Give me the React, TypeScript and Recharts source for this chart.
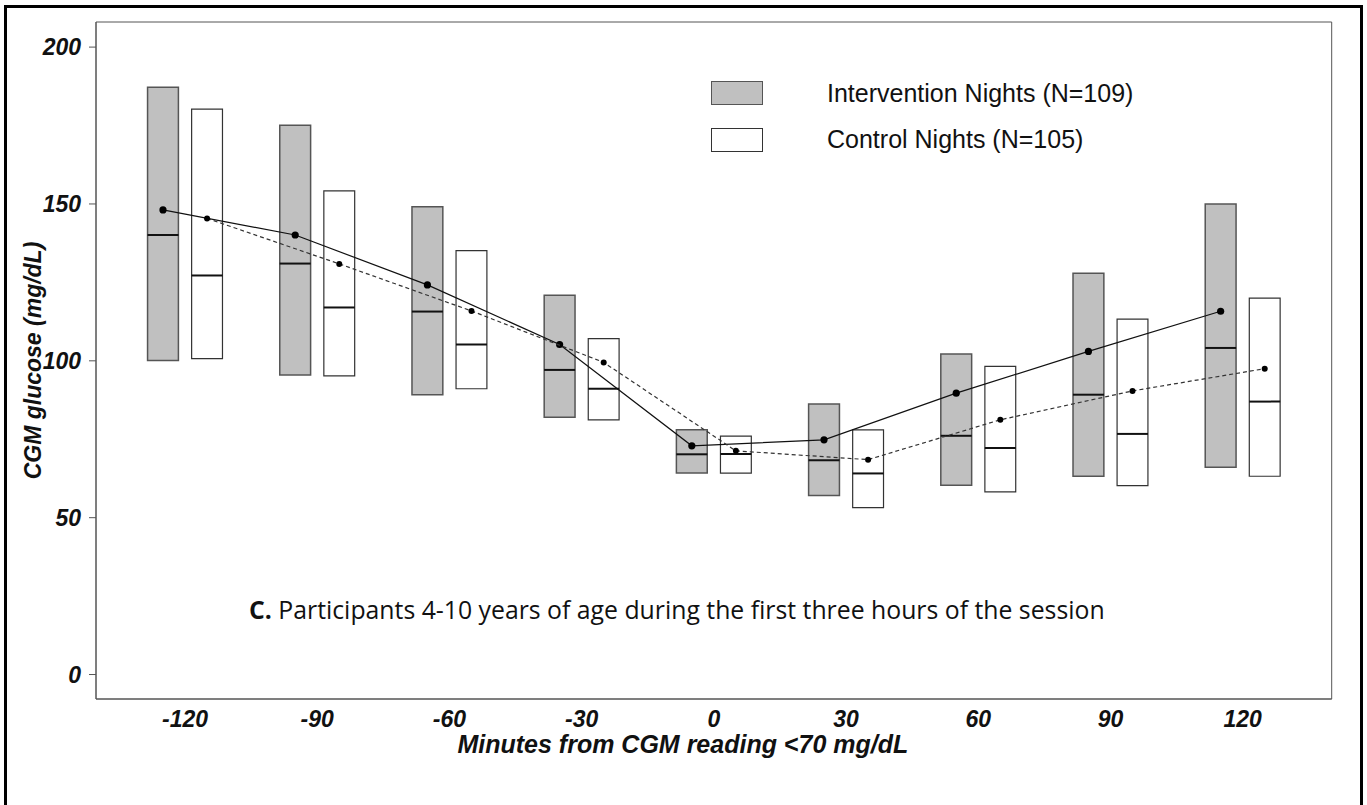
import React from "react";
import {
  ComposedChart,
  XAxis,
  YAxis,
  Scatter,
  ReferenceArea,
  Legend,
} from "recharts";

// minutes relative to the CGM reading <70 mg/dL
const MINUTES = [-120, -90, -60, -30, 0, 30, 60, 90, 120];

// intervention nights (grey boxes)
const INT_LOW = [100.1, 95.5, 89.2, 82.0, 64.2, 57.1, 60.3, 63.2, 66.1];
const INT_HIGH = [187.2, 175.1, 149.1, 120.9, 78.0, 86.2, 102.2, 127.9, 150.0];
const INT_MEDIAN = [140.1, 131.0, 115.7, 97.1, 70.2, 68.3, 76.1, 89.2, 104.1];
const INT_MEAN = [148.1, 140.1, 124.2, 105.2, 72.9, 74.8, 89.7, 103.0, 115.8];

// control nights (white boxes)
const CTL_LOW = [100.7, 95.2, 91.1, 81.2, 64.2, 53.2, 58.2, 60.2, 63.2];
const CTL_HIGH = [180.2, 154.2, 135.1, 107.1, 76.0, 78.0, 98.2, 113.3, 120.0];
const CTL_MEDIAN = [127.2, 117.0, 105.2, 91.1, 70.3, 64.1, 72.2, 76.7, 87.0];
const CTL_MEAN = [145.4, 130.9, 115.9, 99.5, 71.3, 68.5, 81.2, 90.4, 97.5];

const Y_TICKS = [0, 50, 100, 150, 200];

const X_DOMAIN = [-140.2, 140.2];
const Y_DOMAIN = [-7.8, 208];

// each group is drawn 5 minutes left / right of the time point
const OFFSET = 5;
const HALF = 3.5;

const GREY = "#c0c0c0";
const AXIS_FONT = "'Liberation Sans', Arial, sans-serif";

const points = (vals: number[], shift: number) =>
  MINUTES.map((m, i) => ({ x: m + shift, y: vals[i] }));

const intMean = points(INT_MEAN, -OFFSET);
const ctlMean = points(CTL_MEAN, OFFSET);
const intMedian = points(INT_MEDIAN, -OFFSET);
const ctlMedian = points(CTL_MEDIAN, OFFSET);

const medianShape = (props: any) => {
  const { cx, cy } = props;
  return (
    <line x1={cx - 15.5} x2={cx + 15.5} y1={cy} y2={cy} stroke="#111" strokeWidth={2} />
  );
};

const dot = (r: number) => (props: any) => (
  <circle cx={props.cx} cy={props.cy} r={r} fill="#000" />
);

const renderLegend = () => (
  <div style={{ fontFamily: AXIS_FONT, fontSize: 25, color: "#111" }}>
    {[
      { label: "Intervention Nights (N=109)", fill: GREY, stroke: "#555" },
      { label: "Control Nights (N=105)", fill: "#fff", stroke: "#333" },
    ].map((d) => (
      <div
        key={d.label}
        style={{ display: "flex", alignItems: "center", height: 46.5 }}
      >
        <div
          style={{
            width: 52,
            height: 24,
            boxSizing: "border-box",
            background: d.fill,
            border: `1px solid ${d.stroke}`,
            marginRight: 64,
          }}
        />
        <span>{d.label}</span>
      </div>
    ))}
  </div>
);

export default function App() {
  return (
    <div style={{ position: "absolute", left: 0, top: 0, width: 1367, height: 805, background: "#fff" }}>
      <div
        style={{
          position: "absolute",
          left: 4,
          top: 5,
          width: 1359,
          height: 800,
          boxSizing: "border-box",
          border: "3px solid #000",
          borderBottom: "none",
        }}
      />
      <ComposedChart
        width={1367}
        height={805}
        margin={{ top: 22, right: 35.3, bottom: 46, left: 0 }}
        style={{ position: "absolute", left: 0, top: 0 }}
      >
        <XAxis
          type="number"
          dataKey="x"
          domain={X_DOMAIN}
          ticks={MINUTES}
          allowDataOverflow
          height={60}
          tickLine={false}
          tickSize={0}
          tickMargin={12}
          axisLine={{ stroke: "#555" }}
          tick={{ fill: "#111", fontFamily: AXIS_FONT, fontSize: 23, fontWeight: 700, fontStyle: "italic" }}
          label={{
            value: "Minutes from CGM reading <70 mg/dL",
            position: "insideBottom",
            offset: 6,
            dx: -31,
            fill: "#111",
            fontFamily: AXIS_FONT,
            fontSize: 25,
            fontWeight: 700,
            fontStyle: "italic",
          }}
        />
        <YAxis
          type="number"
          dataKey="y"
          domain={Y_DOMAIN}
          ticks={Y_TICKS}
          allowDataOverflow
          width={96}
          tickSize={7}
          tickMargin={8}
          tickLine={{ stroke: "#555" }}
          axisLine={{ stroke: "#555" }}
          tick={{ fill: "#111", fontFamily: AXIS_FONT, fontSize: 23, fontWeight: 700, fontStyle: "italic" }}
          label={{
            value: "CGM glucose (mg/dL)",
            angle: -90,
            position: "center",
            dx: -15.5,
            fill: "#111",
            fontFamily: AXIS_FONT,
            fontSize: 23,
            fontWeight: 700,
            fontStyle: "italic",
          }}
        />
        <ReferenceArea
          x1={X_DOMAIN[0]}
          x2={X_DOMAIN[1]}
          y1={Y_DOMAIN[0]}
          y2={Y_DOMAIN[1]}
          fill="none"
          stroke="#555"
          strokeWidth={1}
          ifOverflow="visible"
        />
        {MINUTES.map((m, i) => (
          <ReferenceArea
            key={`int-${m}`}
            x1={m - OFFSET - HALF}
            x2={m - OFFSET + HALF}
            y1={INT_LOW[i]}
            y2={INT_HIGH[i]}
            fill={GREY}
            fillOpacity={1}
            stroke="#555"
            strokeWidth={1.5}
          />
        ))}
        {MINUTES.map((m, i) => (
          <ReferenceArea
            key={`ctl-${m}`}
            x1={m + OFFSET - HALF}
            x2={m + OFFSET + HALF}
            y1={CTL_LOW[i]}
            y2={CTL_HIGH[i]}
            fill="#fff"
            fillOpacity={1}
            stroke="#333"
            strokeWidth={1.2}
          />
        ))}
        <Scatter data={intMedian} shape={medianShape} isAnimationActive={false} />
        <Scatter data={ctlMedian} shape={medianShape} isAnimationActive={false} />
        <Scatter
          data={intMean}
          shape={dot(3.6)}
          line={{ stroke: "#111", strokeWidth: 1.2 }}
          isAnimationActive={false}
        />
        <Scatter
          data={ctlMean}
          shape={dot(3)}
          line={{ stroke: "#333", strokeWidth: 1.2, strokeDasharray: "4 3" }}
          isAnimationActive={false}
        />
        <Legend
          content={renderLegend}
          layout="horizontal"
          verticalAlign="middle"
          align="center"
          wrapperStyle={{ left: 711, top: 70, width: 520 }}
        />
      </ComposedChart>
      <div
        style={{
          position: "absolute",
          left: 249,
          top: 592,
          fontFamily: "'Open Sans', sans-serif",
          fontSize: 24.8,
          color: "#111",
          whiteSpace: "nowrap",
        }}
      >
        <b>C.</b> Participants 4-10 years of age during the first three hours of the session
      </div>
    </div>
  );
}
